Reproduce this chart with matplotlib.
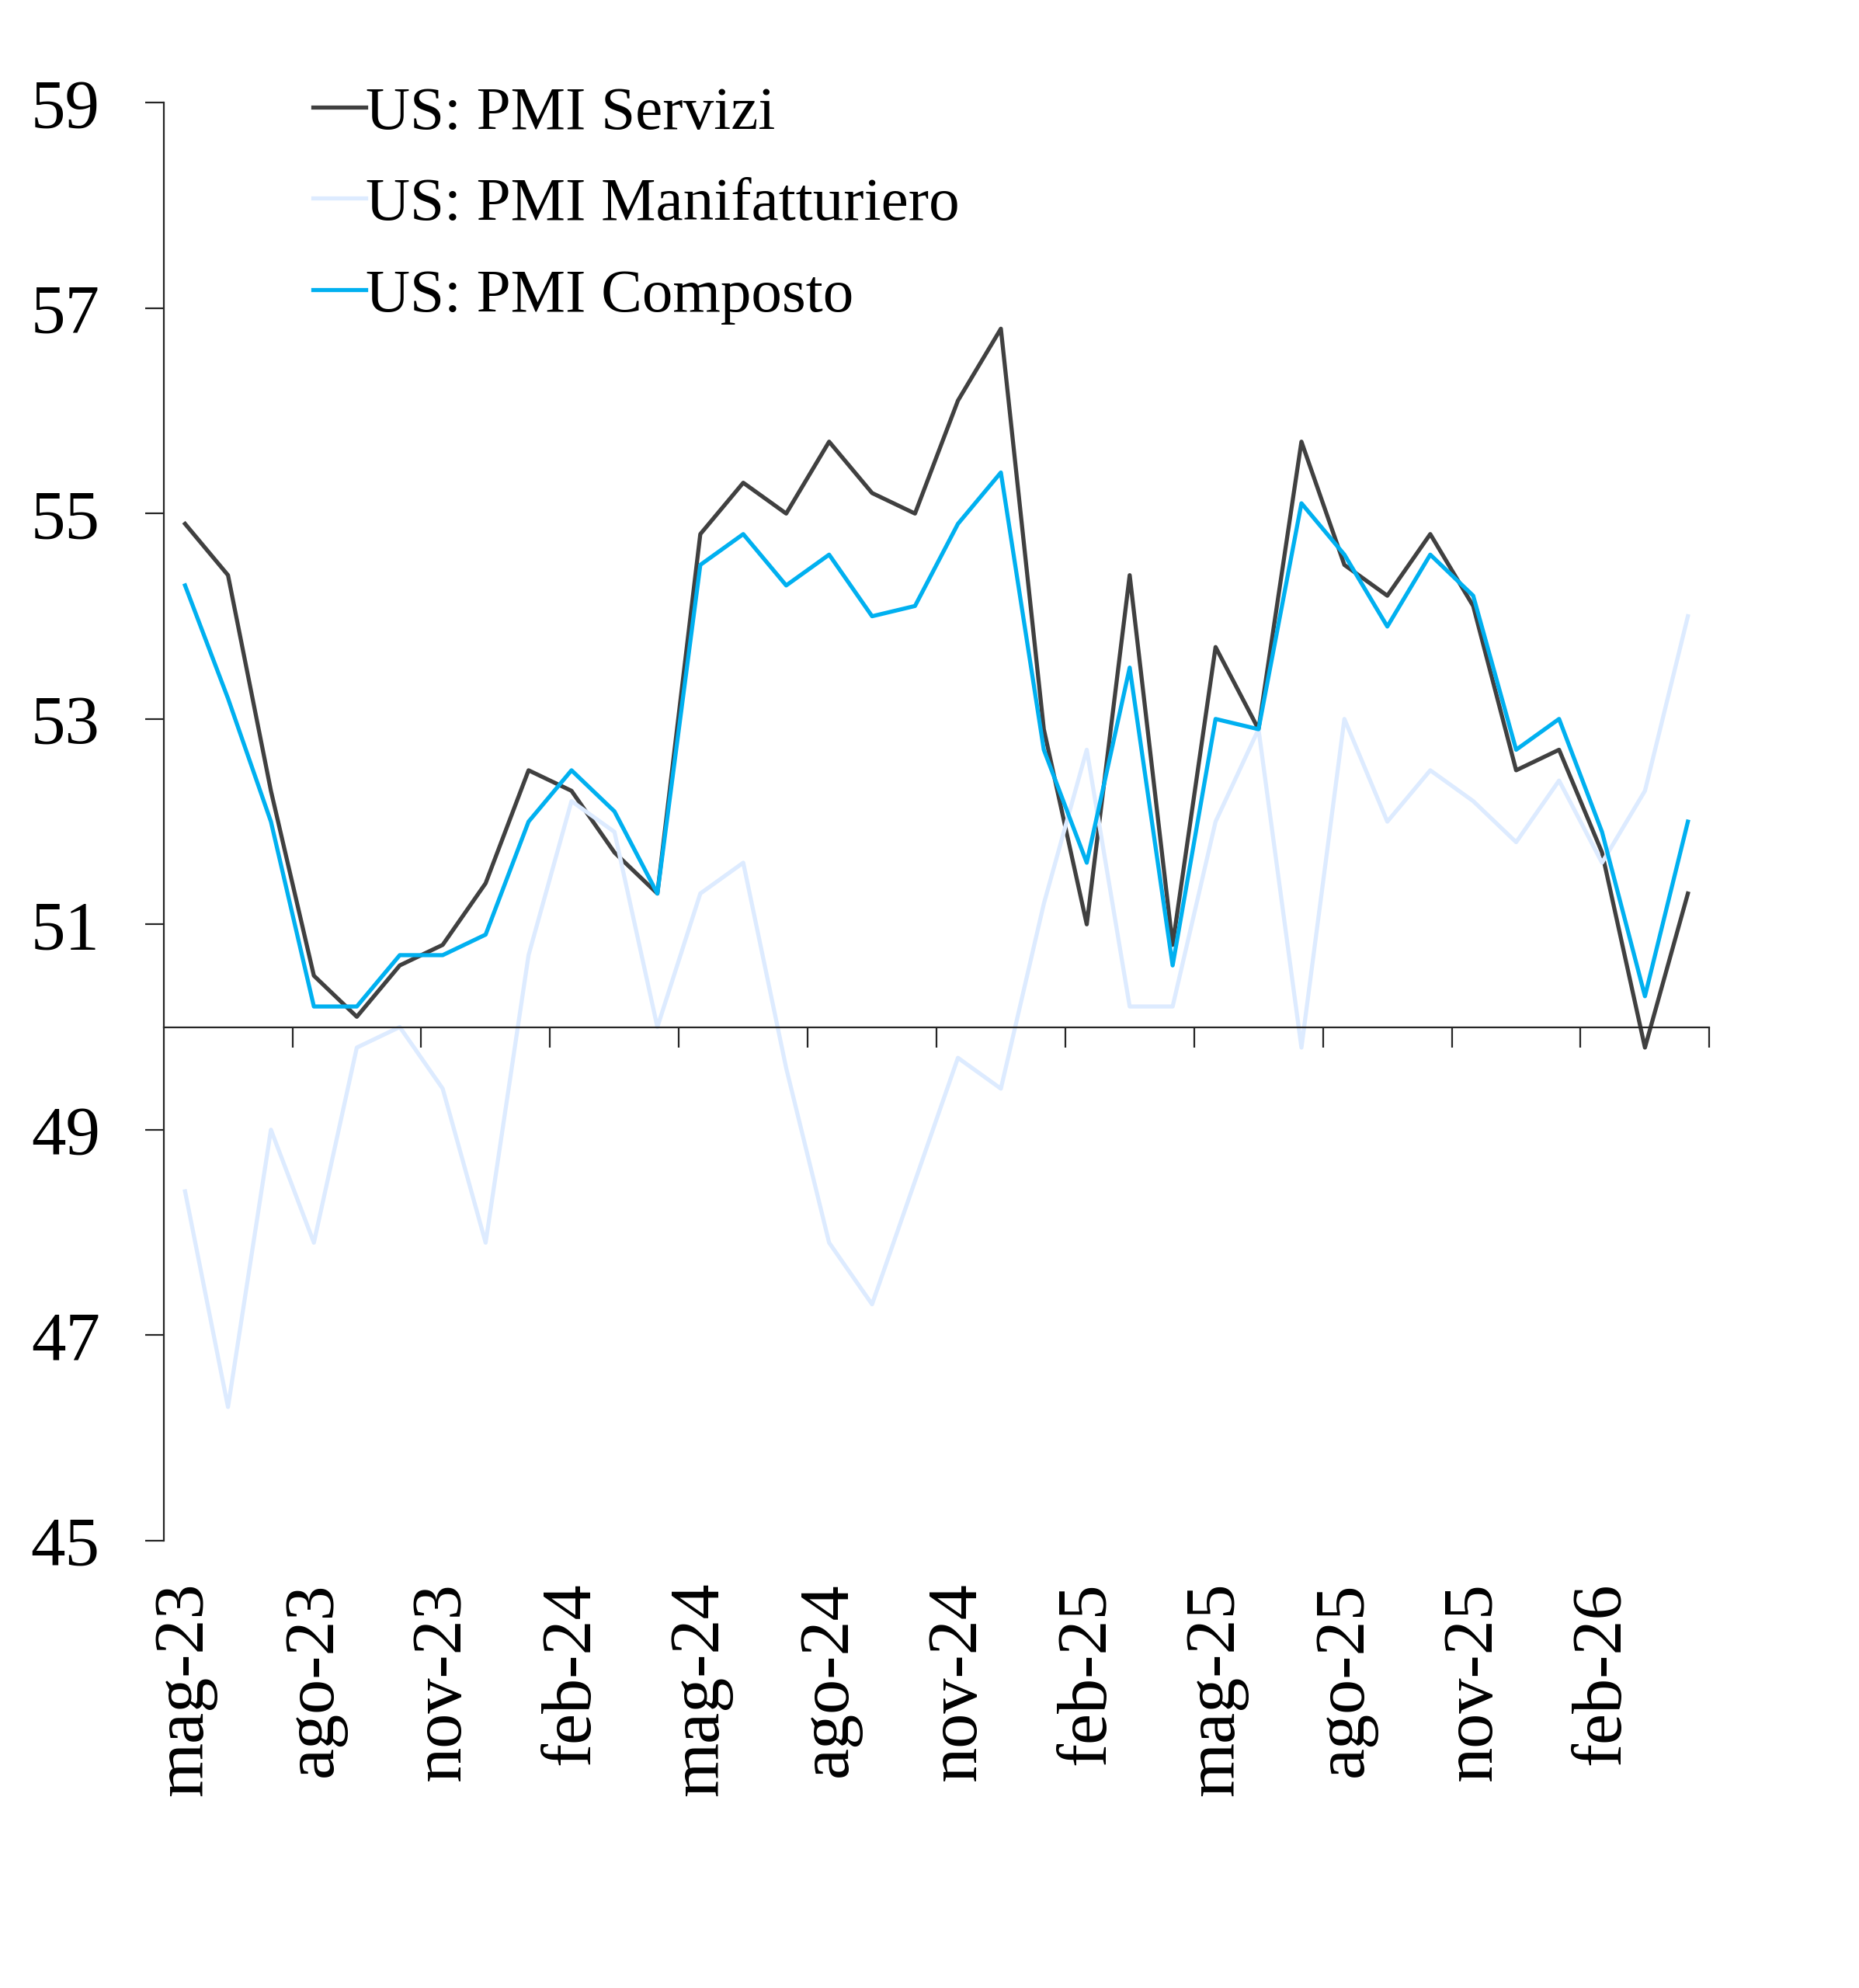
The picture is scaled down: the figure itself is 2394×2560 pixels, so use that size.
import numpy as np
import matplotlib.pyplot as plt
import matplotlib.transforms as mtransforms

plt.rcParams['font.family'] = ['Liberation Serif', 'DejaVu Serif']

# Mesi (mag-23 .. apr-26)
mesi = ['mag-23', 'giu-23', 'lug-23', 'ago-23', 'set-23', 'ott-23', 'nov-23', 'dic-23',
        'gen-24', 'feb-24', 'mar-24', 'apr-24', 'mag-24', 'giu-24', 'lug-24', 'ago-24',
        'set-24', 'ott-24', 'nov-24', 'dic-24', 'gen-25', 'feb-25', 'mar-25', 'apr-25',
        'mag-25', 'giu-25', 'lug-25', 'ago-25', 'set-25', 'ott-25', 'nov-25', 'dic-25',
        'gen-26', 'feb-26', 'mar-26', 'apr-26']

servizi = [54.9, 54.4, 52.3, 50.5, 50.1, 50.6, 50.8, 51.4, 52.5, 52.3, 51.7, 51.3,
           54.8, 55.3, 55.0, 55.7, 55.2, 55.0, 56.1, 56.8, 52.9, 51.0, 54.4, 50.8,
           53.7, 52.9, 55.7, 54.5, 54.2, 54.8, 54.1, 52.5, 52.7, 51.7, 49.8, 51.3]

manifatturiero = [48.4, 46.3, 49.0, 47.9, 49.8, 50.0, 49.4, 47.9, 50.7, 52.2, 51.9, 50.0,
                  51.3, 51.6, 49.6, 47.9, 47.3, 48.5, 49.7, 49.4, 51.2, 52.7, 50.2, 50.2,
                  52.0, 52.9, 49.8, 53.0, 52.0, 52.5, 52.2, 51.8, 52.4, 51.6, 52.3, 54.0]

composto = [54.3, 53.2, 52.0, 50.2, 50.2, 50.7, 50.7, 50.9, 52.0, 52.5, 52.1, 51.3,
            54.5, 54.8, 54.3, 54.6, 54.0, 54.1, 54.9, 55.4, 52.7, 51.6, 53.5, 50.6,
            53.0, 52.9, 55.1, 54.6, 53.9, 54.6, 54.2, 52.7, 53.0, 51.9, 50.3, 52.0]

x = np.arange(len(mesi))

fig = plt.figure(figsize=(23.94, 25.6), dpi=100)
ax = fig.add_axes([0.088, 0.2251, 0.8315, 0.7232])

ax.plot(x, servizi, color='#404040', lw=3.8, label='US: PMI Servizi')
ax.plot(x, manifatturiero, color='#DDEBFF', lw=3.8, label='US: PMI Manifatturiero')
ax.plot(x, composto, color='#00B0F0', lw=3.8, label='US: PMI Composto')

ax.set_xlim(-0.5, len(mesi) - 0.5)
ax.set_ylim(45, 59)
ax.set_yticks(np.arange(45, 60, 2))

# assi: asse x che incrocia a 50
ax.spines['top'].set_visible(False)
ax.spines['right'].set_visible(False)
ax.spines['bottom'].set_position(('data', 50))
for s in ['left', 'bottom']:
    ax.spines[s].set_linewidth(1.6)
    ax.spines[s].set_color('#262626')

ax.set_xticks(np.arange(2.5, len(mesi), 3))
ax.set_xticklabels([])
ax.tick_params(axis='x', direction='out', length=19, width=1.6, color='#262626')
ax.tick_params(axis='y', direction='out', length=17, width=1.6, color='#262626',
               labelsize=64, pad=42)

# etichette dei mesi in basso, ogni tre mesi
trans = mtransforms.blended_transform_factory(ax.transData, ax.transAxes)
for i in range(0, len(mesi), 3):
    ax.text(x[i], -0.029, mesi[i], transform=trans, rotation=90,
            ha='center', va='top', fontsize=65)

leg = ax.legend(loc='upper left', bbox_to_anchor=(0.1685, 0.957),
                bbox_transform=fig.transFigure, frameon=False, fontsize=57,
                handlelength=0.85, handletextpad=0.0, labelspacing=0.57,
                borderpad=0, borderaxespad=0)

fig.savefig('out.png', dpi=100)
